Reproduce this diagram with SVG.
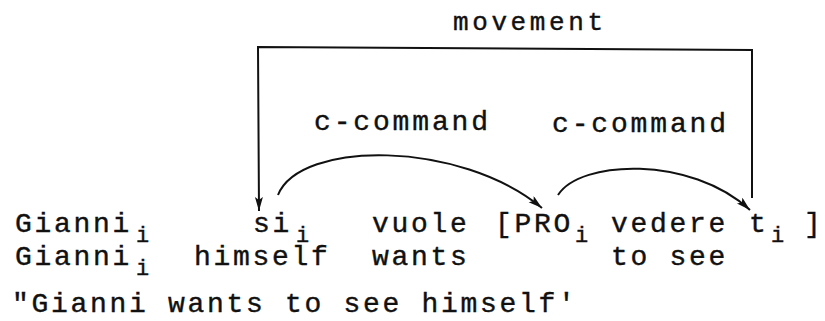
<svg xmlns="http://www.w3.org/2000/svg" width="825" height="321" viewBox="0 0 825 321">
<style>
  text { font-family: "Liberation Mono", "DejaVu Sans Mono", monospace; fill: #111; stroke: #111; stroke-width: 0.4; }
  .t { font-size: 28px; letter-spacing: 2.7px; }
  .sub { font-size: 22px; }
  .lbl { font-size: 28px; }
  .mv { font-size: 26px; }
  .conn { fill: none; stroke: #111; stroke-width: 2; }
</style>
<defs>
  <marker id="ah" markerUnits="userSpaceOnUse" markerWidth="16" markerHeight="10" refX="14" refY="4" orient="auto">
    <path d="M0,0 L14,4 L0,8 L3,4 z" fill="#111"/>
  </marker>
</defs>
<rect width="825" height="321" fill="#fff"/>
<g id="connectors">
  <path id="movement-line" class="conn" d="M752,198 L752,50 L258,47 L259,211" marker-end="url(#ah)"/>
  <path id="ccommand-1" class="conn" d="M278,195 C300,140 460,140 542,208" marker-end="url(#ah)"/>
  <path id="ccommand-2" class="conn" d="M558,195 C580,160 690,155 750,210" marker-end="url(#ah)"/>
</g>
<g id="labels">
  <text class="mv" x="453" y="30" textLength="150" lengthAdjust="spacing">movement</text>
  <text class="lbl" x="314" y="130" textLength="174" lengthAdjust="spacing">c-command</text>
  <text class="lbl" x="552" y="132" textLength="174" lengthAdjust="spacing">c-command</text>
</g>
<g id="row1">
  <text class="t" x="15" y="232">Gianni</text><text class="sub" x="136" y="242">i</text>
  <text class="t" x="253" y="232">si</text><text class="sub" x="296" y="242">i</text>
  <text class="t" x="372" y="232">vuole</text>
  <text class="t" x="495" y="232">[PRO</text><text class="sub" x="575" y="242">i</text>
  <text class="t" x="611" y="232">vedere</text>
  <text class="t" x="749" y="232">t</text><text class="sub" x="771" y="242">i</text>
  <text class="t" x="804" y="232">]</text>
</g>
<g id="row2">
  <text class="t" x="15" y="265">Gianni</text><text class="sub" x="136" y="275">i</text>
  <text class="t" x="194" y="265">himself</text>
  <text class="t" x="372" y="265">wants</text>
  <text class="t" x="611" y="265">to see</text>
</g>
<g id="translation">
  <text class="t" x="12" y="312">"Gianni wants to see himself'</text>
</g>
</svg>
